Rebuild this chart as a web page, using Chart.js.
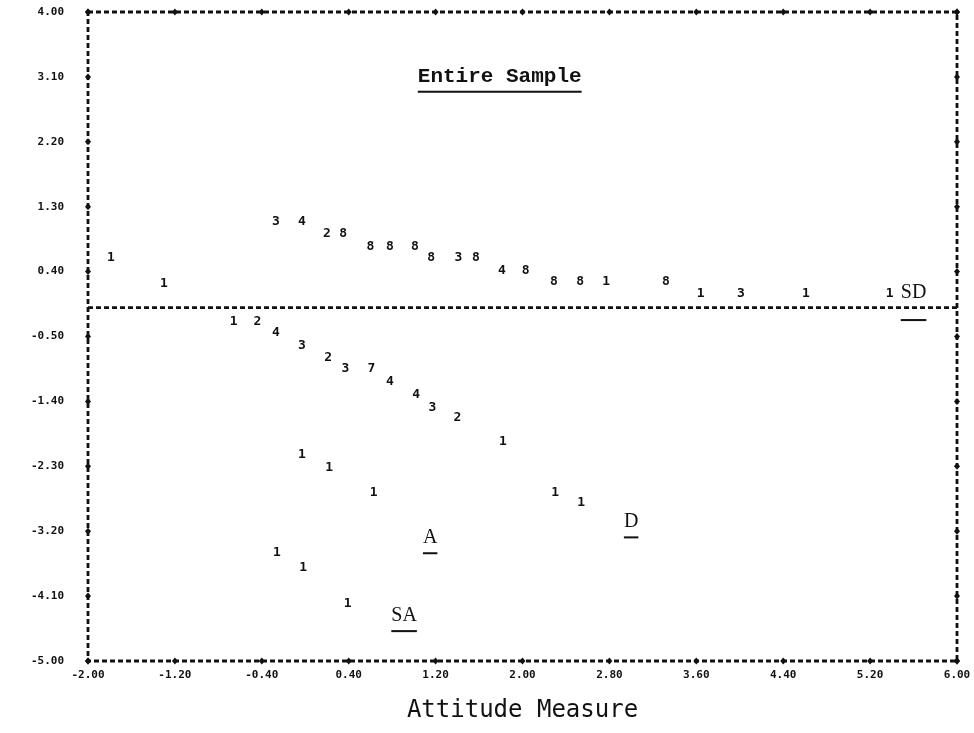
<!DOCTYPE html>
<html>
<head>
<meta charset="utf-8">
<script src="https://cdn.jsdelivr.net/npm/chart.js@4.4.1/dist/chart.umd.min.js"></script>
<style>
  html, body { margin: 0; padding: 0; background: #fff; }
  #wrap { width: 974px; height: 733px; }
</style>
</head>
<body>
<div id="wrap"><canvas id="plot"></canvas></div>
<script>
// axis ticks
const xTickValues = [-2.0, -1.2, -0.4, 0.4, 1.2, 2.0, 2.8, 3.6, 4.4, 5.2, 6.0];
const xTickLabels = ['-2.00', '-1.20', '-0.40', '0.40', '1.20', '2.00', '2.80', '3.60', '4.40', '5.20', '6.00'];
const yTickValues = [4.0, 3.1, 2.2, 1.3, 0.4, -0.5, -1.4, -2.3, -3.2, -4.1, -5.0];
const yTickLabels = ['4.00', '3.10', '2.20', '1.30', '0.40', '-0.50', '-1.40', '-2.30', '-3.20', '-4.10', '-5.00'];
const zeroLineValue = -0.1;

// SD responses (above the reference line)
const sdX     = [-1.79, -1.30, -0.27, -0.03, 0.20, 0.35, 0.60, 0.78, 1.01, 1.16, 1.41, 1.57, 1.81, 2.03, 2.29, 2.53, 2.77, 3.32, 3.64, 4.01, 4.61, 5.38];
const sdY     = [0.59, 0.24, 1.09, 1.09, 0.93, 0.93, 0.75, 0.75, 0.75, 0.59, 0.59, 0.59, 0.42, 0.42, 0.26, 0.26, 0.26, 0.26, 0.10, 0.10, 0.10, 0.10];
const sdCount = ['1', '1', '3', '4', '2', '8', '8', '8', '8', '8', '3', '8', '4', '8', '8', '8', '1', '8', '1', '3', '1', '1'];

// D responses
const dX     = [-0.66, -0.44, -0.27, -0.03, 0.21, 0.37, 0.61, 0.78, 1.02, 1.17, 1.40, 1.82, 2.30, 2.54];
const dY     = [-0.29, -0.29, -0.44, -0.62, -0.79, -0.95, -0.94, -1.12, -1.30, -1.48, -1.63, -1.96, -2.66, -2.81];
const dCount = ['1', '2', '4', '3', '2', '3', '7', '4', '4', '3', '2', '1', '1', '1'];

// A responses
const aX     = [-0.03, 0.22, 0.63];
const aY     = [-2.14, -2.32, -2.66];
const aCount = ['1', '1', '1'];

// SA responses
const saX     = [-0.26, -0.02, 0.39];
const saY     = [-3.50, -3.70, -4.20];
const saCount = ['1', '1', '1'];

// text notes inside the plot
const noteText = ['Entire Sample', 'SD', 'D', 'A', 'SA'];
const noteX    = [1.79, 5.60, 3.00, 1.15, 0.91];
const noteY    = [3.13, 0.13, -3.05, -3.27, -4.35];

function pts(xs, ys) {
    return xs.map((x, i) => ({ x: x, y: ys[i] }));
}

const INK = '#111';

function diamond(ctx, x, y) {
    ctx.beginPath();
    ctx.moveTo(x, y - 3.5);
    ctx.lineTo(x + 3, y);
    ctx.lineTo(x, y + 3.5);
    ctx.lineTo(x - 3, y);
    ctx.closePath();
    ctx.fill();
}

const printerPlot = {
    id: 'printerPlot',
    afterDatasetsDraw(chart) {
        const { ctx, chartArea: a, scales: { x, y } } = chart;
        ctx.save();
        ctx.strokeStyle = INK;
        ctx.fillStyle = INK;
        ctx.lineWidth = 2.8;
        ctx.setLineDash([5, 3]);
        ctx.strokeRect(a.left, a.top, a.right - a.left, a.bottom - a.top);

        const zy = y.getPixelForValue(zeroLineValue);
        ctx.beginPath();
        ctx.moveTo(a.left, zy);
        ctx.lineTo(a.right, zy);
        ctx.stroke();
        ctx.setLineDash([]);

        yTickValues.forEach(v => {
            diamond(ctx, a.left, y.getPixelForValue(v));
            diamond(ctx, a.right, y.getPixelForValue(v));
        });
        xTickValues.forEach(v => {
            diamond(ctx, x.getPixelForValue(v), a.bottom);
            diamond(ctx, x.getPixelForValue(v), a.top);
        });

        // the marks are printed digits (number of cases)
        ctx.font = 'bold 13px "DejaVu Sans Mono"';
        ctx.textAlign = 'center';
        ctx.textBaseline = 'middle';
        chart.data.datasets.forEach((ds, i) => {
            const meta = chart.getDatasetMeta(i);
            meta.data.forEach((el, j) => {
                ctx.fillText(ds.counts[j], el.x, el.y);
            });
        });

        noteText.forEach((t, i) => {
            const px = x.getPixelForValue(noteX[i]);
            const py = y.getPixelForValue(noteY[i]);
            ctx.font = i === 0 ? 'bold 21px "Liberation Mono"' : '20px "Liberation Serif"';
            ctx.textBaseline = 'alphabetic';
            ctx.fillText(t, px, py + 7);
            const w = ctx.measureText(t).width;
            const uy = i === 1 ? py + 28 : py + 16;
            ctx.fillRect(px - w / 2, uy, w, 2);
        });
        ctx.restore();
    }
};

const ctx = document.getElementById('plot').getContext('2d');

new Chart(ctx, {
    type: 'scatter',
    data: {
        datasets: [
            { label: 'SD', data: pts(sdX, sdY), counts: sdCount },
            { label: 'D', data: pts(dX, dY), counts: dCount },
            { label: 'A', data: pts(aX, aY), counts: aCount },
            { label: 'SA', data: pts(saX, saY), counts: saCount }
        ]
    },
    options: {
        responsive: true,
        maintainAspectRatio: false,
        animation: false,
        elements: { point: { radius: 0, hoverRadius: 0 } },
        layout: { padding: { left: 0, right: 17, top: 12, bottom: 0 } },
        plugins: {
            legend: { display: false },
            tooltip: { enabled: false }
        },
        scales: {
            x: {
                type: 'linear',
                min: -2,
                max: 6,
                afterBuildTicks: scale => { scale.ticks = xTickValues.map(v => ({ value: v })); },
                afterFit: scale => { scale.height = 72; },
                grid: { display: true, drawOnChartArea: false, drawTicks: true, tickLength: 8, tickColor: 'rgba(0,0,0,0)' },
                border: { display: false },
                ticks: {
                    autoSkip: false,
                    maxRotation: 0,
                    padding: 0,
                    color: INK,
                    font: { family: 'DejaVu Sans Mono', size: 11, weight: 'bold' },
                    callback: (v, i) => xTickLabels[i]
                },
                title: {
                    display: true,
                    text: 'Attitude Measure',
                    color: INK,
                    font: { family: 'DejaVu Sans Mono', size: 24 },
                    padding: { top: 4, bottom: 8 }
                }
            },
            y: {
                type: 'linear',
                min: -5,
                max: 4,
                afterBuildTicks: scale => { scale.ticks = yTickValues.map(v => ({ value: v })); },
                afterFit: scale => { scale.width = 88; },
                grid: { display: true, drawOnChartArea: false, drawTicks: true, tickLength: 24, tickColor: 'rgba(0,0,0,0)' },
                border: { display: false },
                ticks: {
                    autoSkip: false,
                    padding: 0,
                    color: INK,
                    font: { family: 'DejaVu Sans Mono', size: 11, weight: 'bold' },
                    callback: (v, i) => yTickLabels[i]
                }
            }
        }
    },
    plugins: [printerPlot]
});
</script>
</body>
</html>
